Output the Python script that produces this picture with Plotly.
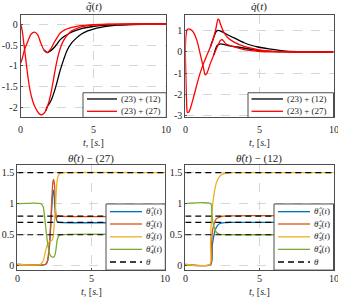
import plotly.graph_objects as go

# ---------------- data ----------------
# q~(t)  (position error)
T_QA_RED = [0, 0.1, 0.2, 0.3, 0.49, 0.65, 0.83, 1.0, 1.16, 1.3, 1.45, 1.6, 1.72, 1.83, 1.94, 2.1, 2.25, 2.42, 2.6, 2.8, 3.0, 3.25, 3.5, 4.0, 4.5, 5.0, 6.0, 7.0, 10]
QA_RED = [0, -0.15, -0.42, -0.7, -1.25, -1.6, -1.85, -2.0, -2.1, -2.16, -2.18, -2.14, -2.08, -1.98, -1.86, -1.62, -1.33, -1.0, -0.72, -0.5, -0.36, -0.24, -0.16, -0.08, -0.04, -0.02, -0.005, 0, 0]
T_QA_BLK = [1.72, 1.83, 1.94, 2.1, 2.25, 2.45, 2.7, 2.95, 3.2, 3.5, 3.8, 4.2, 4.6, 5.0, 5.5, 6.0, 6.6, 7.5, 8.5, 10]
QA_BLK = [-2.08, -1.98, -1.92, -1.82, -1.68, -1.45, -1.12, -0.85, -0.62, -0.45, -0.34, -0.23, -0.16, -0.115, -0.075, -0.045, -0.022, -0.007, 0, 0]
T_QB_RED = [0, 0.1, 0.27, 0.49, 0.71, 0.94, 1.16, 1.38, 1.6, 1.83, 2.05, 2.28, 2.5, 2.72, 3.0, 3.39, 4.0, 4.5, 5.0, 6.0, 10]
QB_RED = [-0.93, -0.83, -0.6, -0.41, -0.24, -0.19, -0.25, -0.45, -0.62, -0.68, -0.6, -0.45, -0.32, -0.21, -0.14, -0.09, -0.04, -0.02, -0.01, 0, 0]
T_QB_BLK = [1.6, 1.83, 2.05, 2.28, 2.5, 2.72, 3.0, 3.39, 3.8, 4.29, 4.96, 5.5, 6.5, 8, 10]
QB_BLK = [-0.62, -0.68, -0.64, -0.565, -0.47, -0.37, -0.29, -0.21, -0.15, -0.094, -0.055, -0.03, -0.01, 0, 0]

# q.(t)  (velocity)
T_VA_RED = [0, 0.05, 0.1, 0.14, 0.22, 0.32, 0.55, 0.78, 1.0, 1.23, 1.46, 1.69, 1.92, 2.05, 2.15, 2.21, 2.28, 2.37, 2.6, 2.83, 3.29, 3.97, 4.89, 5.5, 6.5, 10]
VA_RED = [0, -1.5, -2.6, -2.85, -2.84, -2.7, -2.15, -1.54, -1.0, -0.54, -0.15, 0.23, 0.69, 1.05, 1.4, 1.54, 1.5, 1.31, 0.92, 0.69, 0.46, 0.26, 0.11, 0.05, 0.01, 0]
T_VA_BLK = [1.69, 1.92, 2.05, 2.15, 2.3, 2.6, 2.95, 3.29, 3.97, 4.5, 4.89, 5.64, 6.8, 8, 10]
VA_BLK = [0.23, 0.69, 0.92, 1.0, 1.0, 0.9, 0.77, 0.66, 0.43, 0.3, 0.23, 0.14, 0.03, 0, 0]
T_VB_RED = [0, 0.05, 0.14, 0.32, 0.55, 0.78, 1.0, 1.23, 1.35, 1.46, 1.69, 1.92, 2.15, 2.37, 2.49, 2.6, 2.72, 3.0, 3.29, 3.97, 4.89, 6, 10]
VB_RED = [0, 0.8, 1.06, 1.07, 0.92, 0.54, -0.08, -0.77, -1.08, -1.0, -0.54, -0.15, 0.23, 0.54, 0.57, 0.5, 0.38, 0.3, 0.23, 0.11, 0.03, 0, 0]
T_VB_BLK = [1.92, 2.15, 2.33, 2.6, 2.83, 3.52, 4.43, 5.3, 6.5, 8, 10]
VB_BLK = [-0.15, 0.3, 0.37, 0.35, 0.31, 0.23, 0.12, 0.05, 0.01, 0, 0]

# theta-hat estimates, law (27)
T27_1 = [0, 1.9, 2.05, 2.18, 2.29, 2.4, 2.45, 2.5, 2.56, 2.63, 2.7, 2.8, 10]
TH27_1 = [0.02, 0.02, 0.08, 0.33, 0.76, 1.18, 1.22, 1.1, 0.86, 0.76, 0.71, 0.7, 0.7]
T27_2 = [0, 1.9, 2.0, 2.07, 2.18, 2.29, 2.4, 2.45, 2.52, 2.58, 2.65, 2.74, 2.85, 10]
TH27_2 = [0.02, 0.02, 0.05, 0.12, 0.39, 0.86, 1.34, 1.39, 1.29, 0.92, 0.76, 0.81, 0.8, 0.8]
T27_3 = [0, 1.55, 1.73, 1.85, 1.95, 2.07, 2.18, 2.29, 2.4, 2.47, 2.56, 2.63, 2.7, 2.8, 2.9, 3.1, 10]
TH27_3 = [0.02, 0.02, 0.07, 0.17, 0.28, 0.36, 0.39, 0.4, 0.44, 0.6, 0.86, 1.18, 1.39, 1.47, 1.49, 1.5, 1.5]
T27_4 = [0, 1.6, 1.75, 1.85, 1.95, 2.07, 2.2, 2.35, 2.5, 2.6, 2.7, 2.8, 2.95, 10]
TH27_4 = [1, 1, 0.95, 0.78, 0.55, 0.33, 0.18, 0.14, 0.15, 0.24, 0.42, 0.48, 0.5, 0.5]

# theta-hat estimates, law (12)
T12_1 = [0, 1.72, 1.82, 1.98, 2.1, 2.32, 2.66, 3.0, 10]
TH12_1 = [0.02, 0.02, 0.33, 0.54, 0.62, 0.68, 0.695, 0.7, 0.7]
T12_2 = [0, 1.7, 1.78, 1.86, 1.98, 2.1, 2.32, 2.6, 10]
TH12_2 = [0.02, 0.02, 0.4, 0.6, 0.7, 0.76, 0.785, 0.8, 0.8]
T12_3 = [0, 1.66, 1.7, 1.75, 1.86, 1.98, 2.1, 2.32, 2.55, 2.8, 3.1, 10]
TH12_3 = [0.02, 0.02, 0.33, 0.7, 1.02, 1.21, 1.34, 1.44, 1.48, 1.495, 1.5, 1.5]
T12_4 = [0, 1.72, 1.8, 1.86, 1.98, 2.1, 2.32, 2.7, 10]
TH12_4 = [1, 1, 0.82, 0.7, 0.6, 0.54, 0.505, 0.5, 0.5]

THETA = [0.7, 0.8, 1.5, 0.5]
T_SPAN = [0, 10]

X_TICKS = [0, 5, 10]
X_TEXT = ["0", "5", "10"]
Y1_TICKS = [0, -0.5, -1, -1.5, -2]
Y1_TEXT = ["0", "-0.5", "-1", "-1.5", "-2"]
Y2_TICKS = [1, 0, -1, -2, -3]
Y2_TEXT = ["1", "0", "-1", "-2", "-3"]
Y3_TICKS = [0, 0.5, 1, 1.5]
Y3_TEXT = ["0", "0.5", "1", "1.5"]

# ---------------- styling ----------------
W, H = 338, 303
FONT = "Liberation Serif, Times New Roman, DejaVu Serif, serif"
C_EST = ["#0072BD", "#D95319", "#EDB120", "#77AC30"]
FRAME = "#4d4d4d"
GRID = "#d6d6d6"
TXT = "#262626"
LW = 1.3


def px(x):
    return x / W


def py(y):
    return 1 - y / H


fig = go.Figure()


def add(xa, ya, t, v, color, width=LW, dash="solid", shape="spline", smoothing=0.8):
    fig.add_trace(go.Scatter(x=t, y=v, mode="lines", xaxis=xa, yaxis=ya,
                             line=dict(color=color, width=width, dash=dash,
                                       shape=shape, smoothing=smoothing if shape == "spline" else None),
                             showlegend=False, hoverinfo="skip"))


# top-left
add("x", "y", T_QA_BLK, QA_BLK, "black")
add("x", "y", T_QB_BLK, QB_BLK, "black")
add("x", "y", T_QA_RED, QA_RED, "red")
add("x", "y", T_QB_RED, QB_RED, "red")
# top-right
add("x2", "y2", T_VA_BLK, VA_BLK, "black")
add("x2", "y2", T_VB_BLK, VB_BLK, "black")
add("x2", "y2", T_VA_RED, VA_RED, "red")
add("x2", "y2", T_VB_RED, VB_RED, "red")
# bottom-left
for t, v, c in zip([T27_1, T27_2, T27_3, T27_4], [TH27_1, TH27_2, TH27_3, TH27_4], C_EST):
    add("x3", "y3", t, v, c, smoothing=0.6)
for th in THETA:
    add("x3", "y3", T_SPAN, [th, th], "black", width=1.2, dash="6px,4px", shape="linear")
# bottom-right
for t, v, c in zip([T12_1, T12_2, T12_3, T12_4], [TH12_1, TH12_2, TH12_3, TH12_4], C_EST):
    add("x4", "y4", t, v, c, smoothing=0.6)
for th in THETA:
    add("x4", "y4", T_SPAN, [th, th], "black", width=1.2, dash="6px,4px", shape="linear")

annotations = []
shapes = []


def text(x, y, s, size=10, xanchor="center", xref="paper"):
    annotations.append(dict(x=px(x) if xref == "paper" else x, y=py(y), xref=xref, yref="paper",
                            text=s, showarrow=False, xanchor=xanchor, yanchor="middle",
                            font=dict(family=FONT, size=size, color=TXT)))


# ---------------- axes ----------------
DOM = {
    "1": ((20.7, 166.3), (15.7, 119.0), [-2.24, 0.21], Y1_TICKS, Y1_TEXT, 131),
    "2": ((185.3, 333.5), (15.7, 119.0), [-3.08, 1.71], Y2_TICKS, Y2_TEXT, 131),
    "3": ((17.3, 165.3), (167.7, 273.7), [-0.07, 1.616], Y3_TICKS, Y3_TEXT, 282.7),
    "4": ((185.3, 333.5), (167.7, 273.7), [-0.07, 1.616], Y3_TICKS, Y3_TEXT, 282.7),
}
axfont = dict(family=FONT, size=10, color=TXT)
for k, (xd, yd, yr, yt, ytt, ylab) in DOM.items():
    sfx = "" if k == "1" else k
    fig.layout["xaxis" + sfx] = dict(
        domain=[px(xd[0]), px(xd[1])], range=[0, 10], anchor="y" + sfx,
        tickvals=X_TICKS, showticklabels=False,
        showgrid=True, gridcolor=GRID, griddash="dash", gridwidth=1,
        zeroline=False, showline=True, mirror=True, linecolor=FRAME, linewidth=1,
        ticks="inside", ticklen=2, tickcolor=FRAME, fixedrange=True)
    fig.layout["yaxis" + sfx] = dict(
        domain=[py(yd[1]), py(yd[0])], range=yr, anchor="x" + sfx,
        tickvals=yt, ticktext=ytt, tickfont=axfont,
        showgrid=True, gridcolor=GRID, griddash="dash", gridwidth=1,
        zeroline=False, showline=True, mirror=True, linecolor=FRAME, linewidth=1,
        ticks="inside", ticklen=2, tickcolor=FRAME, ticklabeloverflow="allow",
        fixedrange=True)
    # x tick labels placed at the axis' own tick values
    for v, s in zip(X_TICKS, X_TEXT):
        text(v, ylab, s, 10, xref="x" + sfx)

# titles
text(93.5, 7, "<i>q̃</i>(<i>t</i>)", 11)
text(259.4, 7, "<i>q̇</i>(<i>t</i>)", 11)
text(91.3, 160.5, "<i>θ̂</i>(<i>t</i>) − (27)", 11)
text(259.4, 160.5, "<i>θ̂</i>(<i>t</i>) − (12)", 11)
# x labels
for xc, yc in [(93.5, 144.5), (259.4, 144.5), (91.3, 295), (259.4, 295)]:
    text(xc, yc, "<i>t</i>, [<i>s.</i>]", 10)


def legend(x0, y0, x1, y1, lx0, lx1, rows):
    shapes.append(dict(type="rect", xref="paper", yref="paper", x0=px(x0), x1=px(x1),
                       y0=py(y1), y1=py(y0), fillcolor="white",
                       line=dict(color=FRAME, width=1), layer="above"))
    for (label, color, dash), yc in rows:
        shapes.append(dict(type="line", xref="paper", yref="paper", x0=px(lx0), x1=px(lx1),
                           y0=py(yc), y1=py(yc), layer="above",
                           line=dict(color=color, width=LW, dash=dash)))
        text(lx1 + 1.5, yc, label, 9, xanchor="left")


top_rows = [("(23) + (12)", "black", "solid"), ("(23) + (27)", "red", "solid")]
legend(83, 94, 166.3, 119, 87, 117, list(zip(top_rows, [100.3, 112.8])))
legend(248, 94, 333.5, 119, 251.5, 283, list(zip(top_rows, [100.3, 112.8])))

est_rows = [("<i>θ̂</i><sub>%d</sub>(<i>t</i>)" % (i + 1), C_EST[i], "solid") for i in range(4)]
est_rows.append(("<i>θ</i>", "black", "6px,4px"))
ys = [214.5, 227, 240, 252.7, 265.5]
legend(106, 206.7, 165.3, 273.7, 110, 142, list(zip(est_rows, ys)))
legend(274, 206.7, 333.5, 273.7, 278, 310, list(zip(est_rows, ys)))

fig.update_layout(width=W, height=H, margin=dict(l=0, r=0, t=0, b=0),
                  paper_bgcolor="white", plot_bgcolor="white",
                  annotations=annotations, shapes=shapes, showlegend=False,
                  font=dict(family=FONT, size=10, color=TXT))

fig.write_html("out.html", config={"displayModeBar": False},
               post_script="document.body.style.margin='0px';document.body.style.overflow='hidden';")
